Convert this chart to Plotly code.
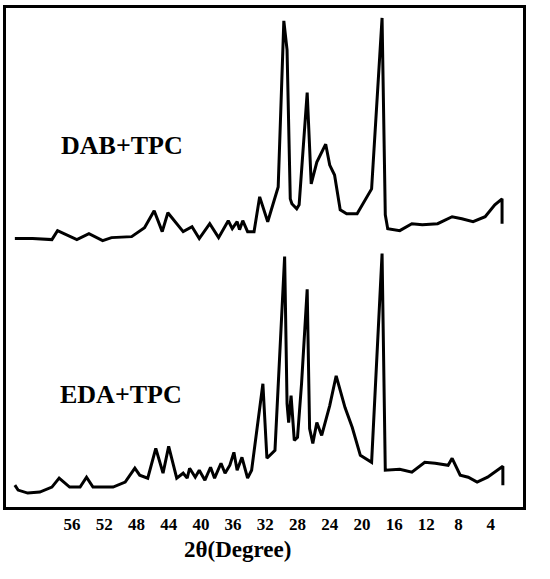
import plotly.graph_objects as go

# 2-theta (degree) and relative intensity (a.u.)
dab_theta = [63.1, 60.9, 58.5, 57.8, 55.4, 53.9, 52.2, 51.1, 48.6, 47.0,
             45.8, 44.8, 44.1, 42.2, 41.1, 40.2, 38.9, 37.8, 36.6, 36.1,
             35.5, 35.2, 34.8, 34.2, 33.4, 32.7, 31.7, 30.4, 29.7, 29.3,
             28.9, 28.7, 28.1, 27.8, 26.8, 26.3, 25.6, 24.5, 24.0, 23.4,
             22.7, 21.9, 20.6, 18.8, 17.5, 17.1, 16.8, 15.3, 13.8, 12.5,
             10.6, 8.8, 7.6, 6.2, 4.7, 3.5, 2.6, 2.6]
dab_int = [8, 8, 7, 16, 7, 13, 6, 9, 10, 19,
           36, 15, 34, 15, 20, 8, 23, 9, 26, 18,
           25, 17, 26, 15, 15, 50, 25, 60, 227, 198,
           48, 43, 38, 42, 155, 63, 85, 103, 82, 72,
           37, 33, 33, 58, 230, 32, 18, 16, 23, 22,
           23, 30, 28, 25, 30, 42, 48, 23]

eda_theta = [63.1, 62.7, 61.5, 60.0, 58.5, 57.6, 56.3, 55.0, 54.2, 53.4,
             50.9, 49.4, 48.2, 47.6, 46.6, 45.6, 44.7, 44.0, 43.0, 42.2,
             41.7, 41.4, 40.7, 40.2, 39.5, 38.8, 38.3, 37.5, 37.0, 36.4,
             35.9, 35.5, 34.9, 34.2, 33.7, 32.3, 31.8, 31.1, 30.8, 29.6,
             29.3, 29.1, 28.8, 28.4, 28.0, 27.5, 26.8, 26.5, 26.1, 25.6,
             25.0, 24.0, 23.2, 22.1, 21.2, 20.2, 18.8, 17.5, 17.1, 15.3,
             13.8, 12.2, 10.9, 9.3, 8.8, 7.8, 6.8, 5.7, 4.4, 2.5, 2.5]
eda_int = [10, 5, 2, 3, 8, 17, 8, 8, 18, 8,
           8, 13, 27, 20, 17, 47, 22, 49, 17, 22,
           17, 27, 18, 25, 15, 28, 17, 32, 22, 30,
           43, 25, 38, 17, 25, 112, 37, 42, 45, 240,
           92, 73, 100, 55, 58, 112, 207, 67, 52, 73,
           60, 90, 120, 88, 68, 40, 33, 243, 25, 26,
           23, 33, 32, 30, 37, 20, 18, 13, 18, 29, 10]

tick_vals = [56, 52, 48, 44, 40, 36, 32, 28, 24, 20, 16, 12, 8, 4]
offset = 250  # vertical shift of the upper pattern

serif = "Liberation Serif, Times New Roman, serif"

fig = go.Figure()
fig.add_trace(go.Scatter(x=dab_theta, y=[v + offset for v in dab_int], mode="lines",
                         line=dict(color="black", width=3), name="DAB+TPC"))
fig.add_trace(go.Scatter(x=eda_theta, y=eda_int, mode="lines",
                         line=dict(color="black", width=3), name="EDA+TPC"))

fig.add_annotation(x=49.8, y=352, text="<b>DAB+TPC</b>", showarrow=False,
                   font=dict(family=serif, size=26, color="black"))
fig.add_annotation(x=49.9, y=101, text="<b>EDA+TPC</b>", showarrow=False,
                   font=dict(family=serif, size=26, color="black"))
# axis title sits left of the plot centre in the original
fig.add_annotation(x=0.447, xref="paper", y=-0.086, yref="paper",
                   xanchor="center", yanchor="middle",
                   text="<b>2θ(Degree)</b>", showarrow=False,
                   font=dict(family=serif, size=23, color="black"))

fig.update_xaxes(range=[64.2, 0.0], tickvals=tick_vals,
                 ticks="", showgrid=False, zeroline=False,
                 showline=True, linecolor="black", linewidth=3, mirror=True,
                 ticklabelstandoff=0,
                 tickfont=dict(family=serif, size=17, color="black", weight="bold"))
fig.update_yaxes(range=[-12, 490], showticklabels=False, ticks="",
                 showgrid=False, zeroline=False,
                 showline=True, linecolor="black", linewidth=3, mirror=True)

fig.update_layout(
    width=550, height=579,
    margin=dict(l=6, r=27, t=5, b=72),
    plot_bgcolor="white", paper_bgcolor="white",
    showlegend=False
)

# drop the default page margin so the figure fills the window
fig.write_html("out.html", config={"displayModeBar": False},
               post_script="document.body.style.margin='0';")
